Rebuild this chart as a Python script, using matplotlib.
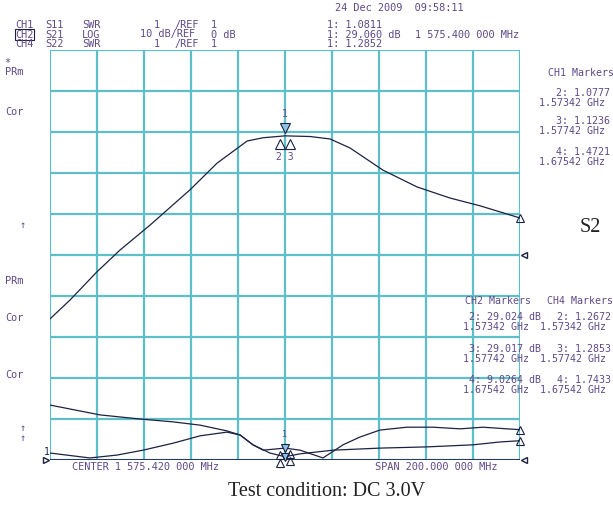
import numpy as np
from matplotlib import pyplot as plt

# sweep: center 1575.42 MHz, span 200 MHz
center = 1575.42
span = 200.0

# CH2  S21 (dB)
s21_freq = [1475.4, 1483.9, 1495.4, 1505.2, 1518.0, 1535.0, 1546.5, 1559.3, 1566.1,
            1575.4, 1586.1, 1594.6, 1603.1, 1617.1, 1631.6, 1645.6, 1658.4, 1675.4]
s21_db = [-15.6, -11.0, -4.1, 1.2, 7.3, 15.9, 22.4, 27.8, 28.6,
          29.06, 28.9, 28.3, 26.1, 20.7, 16.6, 13.9, 12.0, 9.03]

# CH1  S11 (SWR)
s11_freq = [1475.4, 1492.4, 1503.9, 1515.0, 1527.8, 1539.3, 1550.7, 1556.3, 1561.8,
            1569.0, 1575.4, 1581.8, 1595.9, 1615.8, 1635.9, 1655.4, 1666.9, 1675.4]
s11_swr = [1.17, 1.05, 1.12, 1.24, 1.41, 1.59, 1.68, 1.61, 1.37,
           1.17, 1.08, 1.15, 1.24, 1.29, 1.32, 1.37, 1.44, 1.47]

# CH4  S22 (SWR)
s22_freq = [1475.4, 1496.7, 1513.7, 1527.8, 1539.3, 1550.7, 1556.3, 1561.8, 1566.1,
            1575.4, 1581.8, 1591.6, 1600.1, 1607.3, 1615.8, 1627.3, 1638.4, 1649.9,
            1659.7, 1669.9, 1675.4]
s22_swr = [2.34, 2.10, 2.00, 1.93, 1.85, 1.71, 1.61, 1.37, 1.24,
           1.29, 1.24, 1.05, 1.37, 1.56, 1.73, 1.80, 1.80, 1.76,
           1.80, 1.76, 1.74]

# marker frequencies (MHz)
mk_freq = [1575.4, 1573.42, 1577.42, 1675.42]

W, H = 613, 512
grid_c = '#5fbfc9'
trace_c = '#1c2242'
txt_c = '#5e4a88'
mono = 'DejaVu Sans Mono'


def px(x, y):
    return x / W, 1 - y / H


def s21_div(db):
    # 10 dB/div, ref 0 dB at the center line
    return 5 + np.asarray(db) / 10.0


def swr_div(swr):
    # 1 per div, ref 1 at the bottom line
    return np.asarray(swr) - 1.0


fig = plt.figure(figsize=(W / 100, H / 100), dpi=100)
ax = fig.add_axes([50 / W, (H - 460) / H, 470 / W, 410 / H])
f0, f1 = center - span / 2, center + span / 2
ax.set_xlim(f0, f1)
ax.set_ylim(0, 10)
ax.set_xticks(np.linspace(f0, f1, 11))
ax.set_yticks(np.arange(0, 11))
ax.grid(True, color=grid_c, lw=1.6)
ax.tick_params(length=0, labelbottom=False, labelleft=False)
for s in ax.spines.values():
    s.set_visible(False)
ax.axhline(0, color=trace_c, lw=1.2)

ax.plot(s21_freq, s21_div(s21_db), color=trace_c, lw=0.9)
ax.plot(s11_freq, swr_div(s11_swr), color=trace_c, lw=0.9)
ax.plot(s22_freq, swr_div(s22_swr), color=trace_c, lw=0.9)

# markers on S21
m1 = s21_div(29.06)
ax.plot(mk_freq[0], m1 + 0.2, marker='v', ms=7, mfc='#8fc4e8', mec=trace_c, mew=0.8)
ax.text(mk_freq[0], m1 + 0.42, '1', color=txt_c, ha='center', va='bottom',
        fontsize=7, family=mono)
for f, v in zip(mk_freq[1:3], [29.024, 29.017]):
    ax.plot(f, s21_div(v) - 0.2, marker='^', ms=7, mfc='none', mec=trace_c, mew=0.8)
ax.text(center, s21_div(29.0) - 0.4, '2 3', color=txt_c, ha='center', va='top',
        fontsize=7, family=mono)
ax.plot(mk_freq[3], s21_div(9.0264), marker='^', ms=6, mfc='none', mec=trace_c,
        mew=0.8, clip_on=False)

# markers on SWR traces
for v in [1.0811, 1.2852]:
    ax.plot(mk_freq[0], swr_div(v), marker='v', ms=6, mfc='#8fc4e8', mec=trace_c,
            mew=0.8, clip_on=False)
for f, v in [(mk_freq[1], 1.0777), (mk_freq[2], 1.1236),
             (mk_freq[1], 1.2672), (mk_freq[2], 1.2853)]:
    ax.plot(f, swr_div(v) - 0.15, marker='^', ms=6, mfc='none', mec=trace_c,
            mew=0.8, clip_on=False)
for v in [1.4721, 1.7433]:
    ax.plot(mk_freq[3], swr_div(v), marker='^', ms=6, mfc='none', mec=trace_c,
            mew=0.8, clip_on=False)
ax.text(mk_freq[0], swr_div(1.0) + 0.55, '1', color=txt_c, ha='center', fontsize=6,
        family=mono)

# reference position pointers
ax.plot(f1 + 1.5, 5, marker='<', ms=5, mfc='none', mec=trace_c, clip_on=False)
ax.plot(f1 + 1.5, 0, marker='<', ms=5, mfc='none', mec=trace_c, clip_on=False)
ax.plot(f0 - 1.5, 0, marker='>', ms=5, mfc='none', mec=trace_c, clip_on=False)
fig.text(*px(44, 455), '1', color=trace_c, fontsize=7, family=mono)

# header
kw = dict(color=txt_c, fontsize=7.4, family=mono, va='center')
rows = [('CH1', 'S11', 'SWR', [(154, '1'), (174, '/REF'), (211, '1')]),
        ('CH2', 'S21', 'LOG', [(140, '10 dB/REF'), (211, '0 dB')]),
        ('CH4', 'S22', 'SWR', [(154, '1'), (174, '/REF'), (211, '1')])]
for i, (ch, sp, fmt, scale) in enumerate(rows):
    y = 25 + i * 9.5
    t = fig.text(*px(15, y), ch, **kw)
    if ch == 'CH2':
        t.set_bbox(dict(fc='none', ec=trace_c, lw=0.8, pad=0.3))
    fig.text(*px(45, y), sp, **kw)
    fig.text(*px(82, y), fmt, **kw)
    for xx, s in scale:
        fig.text(*px(xx, y), s, **kw)

fig.text(*px(335, 8), '24 Dec 2009  09:58:11', **kw)
fig.text(*px(327, 25), '1: 1.0811', **kw)
fig.text(*px(327, 34.5), '1: 29.060 dB', **kw)
fig.text(*px(415, 34.5), '1 575.400 000 MHz', **kw)
fig.text(*px(327, 44), '1: 1.2852', **kw)

# left annunciators
left = [(63, '*'), (72, 'PRm'), (112, 'Cor'), (225, '↑'), (281, 'PRm'),
        (318, 'Cor'), (375, 'Cor'), (428, '↑'), (438, '↑')]
for y, s in left:
    xx = 20 if s == '↑' else (4 if s == '*' else 5)
    fig.text(*px(xx, y), s, **kw)

# marker tables
skw = dict(kw, fontsize=7.2)
fig.text(*px(548, 73), 'CH1 Markers', **skw)
ch1 = [('2: 1.0777', '1.57342 GHz'), ('3: 1.1236', '1.57742 GHz'),
       ('4: 1.4721', '1.67542 GHz')]
ch1_y = [93, 121, 152]
for (a, b), y in zip(ch1, ch1_y):
    fig.text(*px(556, y), a, **skw)
    fig.text(*px(539, y + 10), b, **skw)

fig.text(*px(465, 301), 'CH2 Markers', **skw)
fig.text(*px(547, 301), 'CH4 Markers', **skw)
ch2 = [('2: 29.024 dB', '1.57342 GHz'), ('3: 29.017 dB', '1.57742 GHz'),
       ('4: 9.0264 dB', '1.67542 GHz')]
ch4 = [('2: 1.2672', '1.57342 GHz'), ('3: 1.2853', '1.57742 GHz'),
       ('4: 1.7433', '1.67542 GHz')]
for i in range(3):
    y = 317 + i * 31.5
    fig.text(*px(469, y), ch2[i][0], **skw)
    fig.text(*px(463, y + 10), ch2[i][1], **skw)
    fig.text(*px(557, y), ch4[i][0], **skw)
    fig.text(*px(540, y + 10), ch4[i][1], **skw)

fig.text(*px(72, 467), 'CENTER 1 575.420 000 MHz', **kw)
fig.text(*px(375, 467), 'SPAN 200.000 000 MHz', **kw)

fig.text(*px(580, 228), 'S2', fontsize=14.5, family='Liberation Serif',
         color='#222222', va='center')
fig.text(*px(327, 492), 'Test condition: DC 3.0V', fontsize=14.5,
         family='Liberation Serif', color='#222222', ha='center', va='center')

fig.savefig('out.png', dpi=100)
